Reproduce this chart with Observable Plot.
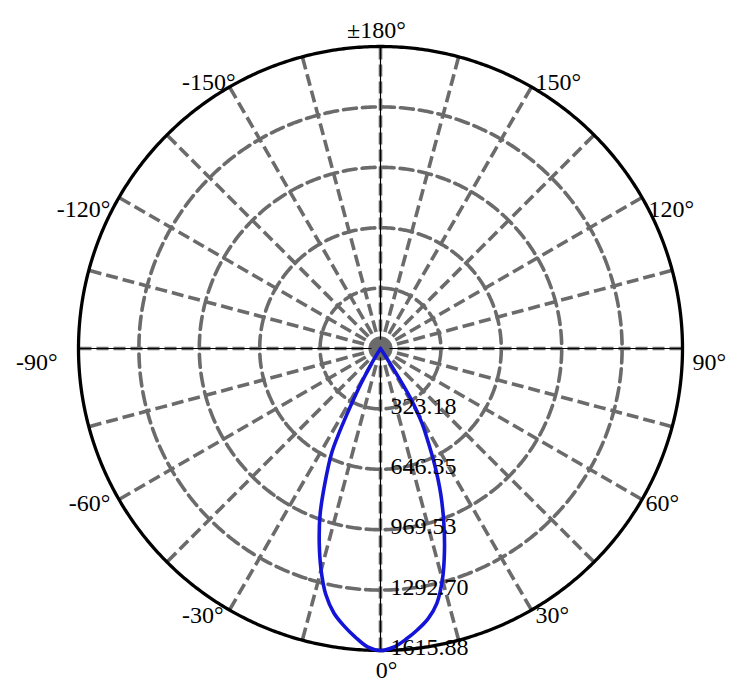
<!DOCTYPE html>
<html>
<head>
<meta charset="utf-8">
<script src="https://cdn.jsdelivr.net/npm/d3@7"></script>
<script src="https://cdn.jsdelivr.net/npm/@observablehq/plot@0.6"></script>
<style>
  html, body { margin: 0; padding: 0; background: #fff; }
  #chart svg { display: block; }
</style>
</head>
<body>
<div id="chart"></div>
<script>
// ---- data ----
const angles = [-32.5, -32, -31, -30, -29, -28, -27, -26, -25, -22.5, -20, -17.5, -15, -12.5, -10, -7.5, -5, -2.5,
  0, 2.5, 5, 7.5, 10, 12.5, 15, 17.5, 20, 22.5, 25, 27.5, 29, 30, 31, 32, 33, 33.8];
const intensity = [0, 15, 70, 140, 220, 300, 400, 520, 620, 775, 945, 1090, 1228, 1350, 1437, 1497, 1550, 1598,
  1615.88, 1600, 1562, 1518, 1468, 1395, 1280, 1138, 990, 842, 685, 535, 460, 395, 325, 195, 65, 0];
const ringValues = [323.18, 646.35, 969.53, 1292.70, 1615.88];
const ringLabels = ["323.18", "646.35", "969.53", "1292.70", "1615.88"];
const spokeAngles = d3.range(-165, 181, 15);
const tickAngles = [0, 30, 60, 90, 120, 150, 180, -150, -120, -90, -60, -30];
const tickLabels = ["0°", "30°", "60°", "90°", "120°", "150°", "±180°", "-150°", "-120°", "-90°", "-60°", "-30°"];

const vmax = ringValues[ringValues.length - 1];
const lat = v => 90 - 90 * v / vmax;

const curveData = angles.map((a, i) => ({angle: a, value: intensity[i]}));
const rings = ringValues.slice(0, -1).map(v => d3.geoCircle().center([0, 90]).radius(90 * v / vmax).precision(0.5)());
const outer = d3.geoCircle().center([0, 90]).radius(90).precision(0.5)();
const ringText = ringValues.map((v, i) => ({v, label: ringLabels[i]}));

// label placement styles (anchor / offsets around the outer circle)
const labelStyle = {
  "0": ["middle", 6, 20], "180": ["middle", -4, -16],
  "30": ["start", 4, 5.5], "-30": ["end", -6, 5.5],
  "60": ["start", 3.5, 4], "-60": ["end", -8.5, 4],
  "90": ["start", 10, 14], "-90": ["end", -21, 14],
  "120": ["start", 6.5, 11.5], "-120": ["end", -8.5, 11.5],
  "150": ["start", 4, -4.5], "-150": ["end", 6, -4.5]
};

const grey = "#6b6b6b";
const font = "'Liberation Serif', 'Times New Roman', serif";

const angleLabelMarks = tickAngles.map((a, i) => {
  const [anchor, dx, dy] = labelStyle[String(a)];
  return Plot.text([{a, t: tickLabels[i]}], {
    x: "a", y: () => 0, text: "t",
    textAnchor: anchor, dx, dy, fontSize: 24, fill: "black", lineAnchor: "middle"
  });
});

const chart = Plot.plot({
  width: 755,
  height: 692,
  marginLeft: 78,
  marginRight: 73,
  marginTop: 46,
  marginBottom: 42,
  style: {fontFamily: font, background: "white"},
  projection: {
    type: "azimuthal-equidistant",
    rotate: [0, -90],
    domain: outer,
    clip: false
  },
  marks: [
    Plot.geo(rings, {stroke: grey, strokeWidth: 3.6, strokeDasharray: "13,6", fill: "none"}),
    Plot.link(spokeAngles, {x1: d => d, y1: () => 90, x2: d => d, y2: () => 0,
      stroke: grey, strokeWidth: 3.6, strokeDasharray: "12,5"}),
    Plot.link([0, 90, 180, -90], {x1: d => d, y1: () => 90, x2: d => d, y2: () => 0,
      stroke: "black", strokeWidth: 1.2}),
    Plot.dot([{a: 0}], {x: "a", y: () => 90, r: 9, fill: grey, stroke: "none"}),
    Plot.geo([outer], {stroke: "black", strokeWidth: 3.3, fill: "none"}),
    Plot.line(curveData, {x: "angle", y: d => lat(d.value), stroke: "#1414d8", strokeWidth: 3.6, curve: "catmull-rom"}),
    Plot.text(ringText, {x: () => 0, y: d => lat(d.v), text: "label", textAnchor: "start",
      dx: 10, dy: -3, fontSize: 24, fill: "black", lineAnchor: "middle"}),
    ...angleLabelMarks
  ]
});

document.getElementById("chart").appendChild(chart);
</script>
</body>
</html>
